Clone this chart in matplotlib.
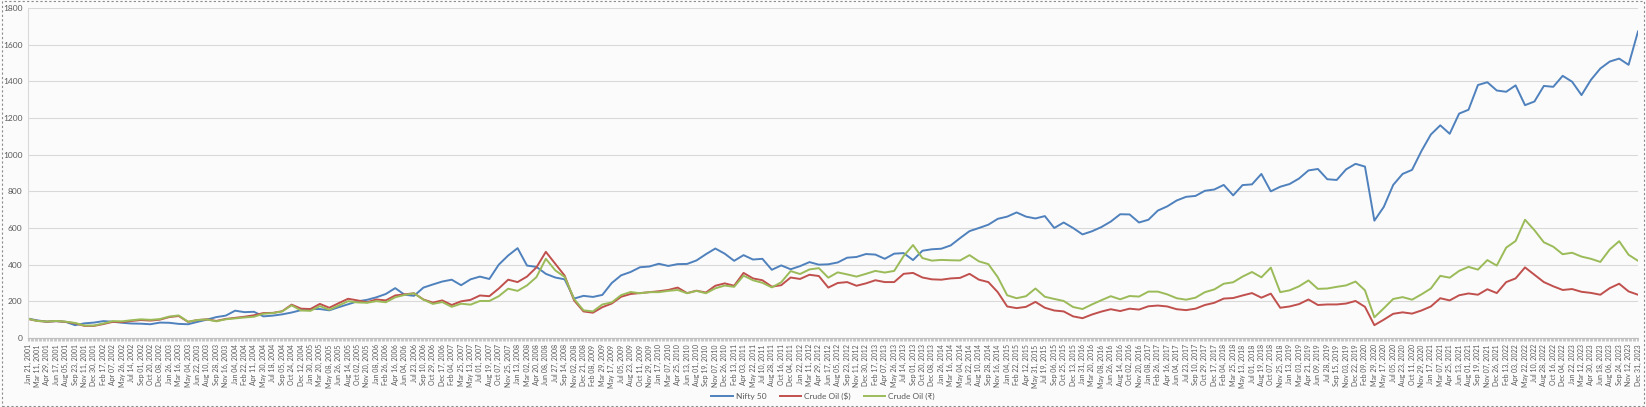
import pandas as pd
import matplotlib
matplotlib.use("Agg")
import matplotlib.pyplot as plt
from matplotlib.patches import Rectangle

weeks = pd.date_range("2001-01-21", "2023-12-31", freq="7D")
dates = pd.date_range("2001-01-21", "2023-12-31", freq="49D")

nifty = [106, 96, 89, 92, 88, 70, 80, 84, 92, 89,
         83, 79, 78, 75, 84, 83, 77, 75, 88, 100,
         114, 122, 149, 141, 143, 118, 122, 129, 139, 152,
         158, 158, 151, 168, 184, 200, 208, 222, 240, 272,
         236, 230, 275, 292, 308, 318, 288, 320, 335, 322,
         400, 450, 490, 395, 388, 350, 330, 320, 215, 230,
         224, 235, 300, 342, 360, 386, 390, 405, 393, 403,
         404, 423, 457, 488, 460, 421, 452, 428, 432, 372,
         396, 375, 392, 414, 400, 402, 412, 438, 442, 458,
         455, 432, 460, 463, 425, 476, 484, 487, 505, 545,
         583, 600, 618, 650, 662, 685, 662, 652, 665, 600,
         630, 600, 565, 582, 605, 635, 675, 674, 630, 645,
         695, 718, 750, 770, 775, 803, 810, 835, 778, 834,
         838, 895, 800, 825, 840, 870, 914, 922, 866, 862,
         920, 950, 935, 640, 715, 835, 895, 917, 1020, 1110,
         1160, 1114, 1224, 1245, 1380, 1395, 1350, 1343, 1378, 1270,
         1290, 1375, 1370, 1430, 1398, 1325, 1408, 1470, 1508, 1524,
         1490, 1672]

crude_usd = [104, 93, 89, 92, 88, 80, 66, 66, 76, 88,
             87, 93, 98, 95, 100, 114, 120, 88, 98, 102,
             93, 104, 110, 116, 124, 136, 137, 146, 182, 160,
             158, 186, 165, 190, 214, 205, 195, 210, 205, 232,
             238, 244, 210, 193, 205, 180, 200, 208, 232, 228,
             270, 318, 305, 335, 385, 470, 405, 340, 205, 145,
             138, 168, 188, 225, 240, 245, 250, 255, 262, 275,
             245, 258, 248, 285, 298, 285, 355, 325, 315, 280,
             288, 330, 322, 345, 338, 275, 300, 305, 285, 298,
             315, 305, 305, 350, 355, 330, 320, 318, 325, 328,
             350, 318, 305, 250, 172, 163, 170, 197, 165, 150,
             145, 118, 108, 128, 144, 157, 147, 160, 155, 173,
             177, 172, 157, 152, 160, 180, 192, 215, 218, 232,
             245, 220, 242, 165, 172, 185, 210, 180, 183, 183,
             188, 202, 170, 70, 100, 132, 140, 133, 150, 172,
             217, 205, 233, 243, 236, 266, 245, 305, 325, 385,
             345, 305, 282, 262, 267, 252, 246, 236, 272, 296,
             254, 236]

crude_inr = [105, 93, 90, 93, 89, 82, 68, 68, 79, 92,
             91, 97, 102, 99, 103, 117, 123, 89, 98, 101,
             91, 102, 107, 112, 116, 132, 136, 145, 178, 150,
             148, 174, 154, 177, 201, 194, 192, 201, 195, 222,
             235, 244, 209, 186, 196, 170, 187, 182, 202, 202,
             228, 269, 257, 287, 332, 432, 369, 333, 213, 151,
             145, 183, 194, 234, 251, 244, 250, 250, 257, 262,
             244, 257, 244, 271, 286, 279, 340, 315, 301, 276,
             304, 365, 349, 374, 381, 329, 358, 347, 335, 350,
             366, 357, 366, 447, 507, 436, 422, 426, 424, 423,
             452, 418, 403, 332, 233, 217, 228, 270, 225, 213,
             202, 169, 158, 183, 206, 228, 211, 229, 226, 253,
             253, 238, 217, 209, 220, 250, 265, 296, 304, 335,
             360, 331, 384, 250, 260, 282, 314, 268, 270, 279,
             287, 308, 260, 113, 162, 213, 223, 209, 238, 270,
             339, 329, 366, 388, 373, 425, 395, 493, 529, 645,
             588, 522, 498, 457, 465, 444, 432, 415, 483, 528,
             454, 421]

labels = [d.strftime("%b %d, %Y") for d in dates]
x = [(d - weeks[0]).days // 7 for d in dates]

plt.rcParams["font.family"] = ["Lato", "DejaVu Sans"]
bg = "#fbfbfb"
W, H = 1646, 407
fig = plt.figure(figsize=(W / 100, H / 100), dpi=100, facecolor=bg)
ax = fig.add_axes([28 / W, 1 - 338 / H, 1610 / W, 330 / H])
ax.set_facecolor(bg)

ax.plot(x, nifty, color="#4f81bd", lw=1.4, label="Nifty 50")
ax.plot(x, crude_usd, color="#c0504d", lw=1.4, label="Crude Oil ($)")
ax.plot(x, crude_inr, color="#9bbb59", lw=1.4, label="Crude Oil (₹)")

ax.set_ylim(0, 1800)
ax.set_yticks(range(0, 1801, 200))
ax.set_xlim(0, len(weeks) - 1)
ax.set_xticks(x)
ax.set_xticklabels(labels, rotation=90, fontsize=5, color="#595959")
ax.set_xticks(range(len(weeks)), minor=True)
ax.tick_params(axis="x", which="both", length=2.5, width=0.6, color="#bfbfbf", pad=2)
ax.tick_params(axis="y", length=0, labelsize=6, labelcolor="#595959", pad=4)
ax.grid(axis="y", color="#d9d9d9", lw=0.8)
ax.set_axisbelow(True)
for s in ["top", "right"]:
    ax.spines[s].set_visible(False)
ax.spines["left"].set_color("#d9d9d9")
ax.spines["bottom"].set_color("#bfbfbf")

fig.legend(loc="center", bbox_to_anchor=(823 / W, 1 - 396 / H), ncol=3, frameon=False,
           fontsize=6, handlelength=2.6, columnspacing=1.6, handletextpad=0.3,
           labelcolor="#595959")

fig.patches.append(Rectangle((0.0015, 0.003), 0.997, 0.994, transform=fig.transFigure,
                             fill=False, ls=(0, (2, 2)), ec="#8c8c8c", lw=0.8))

fig.savefig("out.png", dpi=100, facecolor=bg)
